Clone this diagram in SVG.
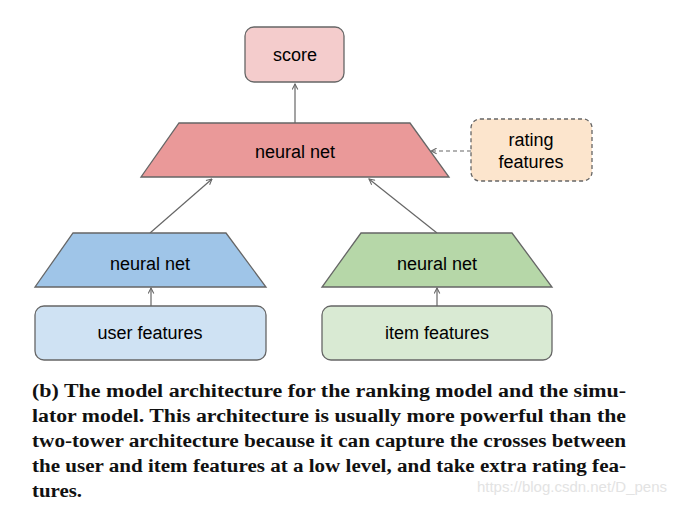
<svg xmlns="http://www.w3.org/2000/svg" width="678" height="505" viewBox="0 0 678 505">
<style>
.lbl{font-family:"Liberation Sans",Arial,sans-serif;font-size:18px;fill:#000;text-anchor:middle}
.shape{stroke:#666;stroke-width:1.3}
.conn{stroke:#666;stroke-width:1.2;fill:none}
.cap{font-family:"Liberation Serif","Times New Roman",serif;font-size:18.5px;font-weight:bold;fill:#111}
</style>
<defs>
<marker id="ah" viewBox="0 0 10 10" refX="9" refY="5" markerWidth="7" markerHeight="7" orient="auto" markerUnits="userSpaceOnUse">
<path d="M1,1 L9,5 L1,9" fill="none" stroke="#666" stroke-width="1.5"/>
</marker>
</defs>
<rect width="678" height="505" fill="#fff"/>
<g id="connectors">
<line class="conn" x1="295" y1="123" x2="295" y2="84" marker-end="url(#ah)"/>
<line class="conn" x1="471" y1="151" x2="431" y2="151" stroke-dasharray="4,3" marker-end="url(#ah)"/>
<line class="conn" x1="150" y1="233" x2="212" y2="179" marker-end="url(#ah)"/>
<line class="conn" x1="437" y1="233" x2="369" y2="179" marker-end="url(#ah)"/>
<line class="conn" x1="151" y1="306" x2="151" y2="288" marker-end="url(#ah)"/>
<line class="conn" x1="437" y1="306" x2="437" y2="288" marker-end="url(#ah)"/>
</g>
<g id="score">
<rect class="shape" x="245" y="27" width="99" height="55" rx="9" fill="#f4cccc"/>
<text class="lbl" x="295" y="61">score</text>
</g>
<g id="top-net">
<polygon class="shape" points="179,123 410,123 449,177 141,177" fill="#ea9999"/>
<text class="lbl" x="295" y="158">neural net</text>
</g>
<g id="rating">
<rect class="shape" x="471" y="119" width="121" height="62" rx="9" fill="#fce5cd" stroke-dasharray="4,3"/>
<text class="lbl" x="531" y="146">rating</text>
<text class="lbl" x="531" y="168">features</text>
</g>
<g id="user-net">
<polygon class="shape" points="73,233 226,233 266,287 35,287" fill="#9fc5e8"/>
<text class="lbl" x="150" y="270">neural net</text>
</g>
<g id="item-net">
<polygon class="shape" points="361,233 512,233 552,287 322,287" fill="#b6d7a8"/>
<text class="lbl" x="437" y="270">neural net</text>
</g>
<g id="user-features">
<rect class="shape" x="35" y="306" width="231" height="54" rx="9" fill="#cfe2f3"/>
<text class="lbl" x="150" y="339">user features</text>
</g>
<g id="item-features">
<rect class="shape" x="322" y="306" width="230" height="54" rx="9" fill="#d9ead3"/>
<text class="lbl" x="437" y="339">item features</text>
</g>
<g id="caption">
<text class="cap" x="32" y="397" textLength="594" lengthAdjust="spacingAndGlyphs">(b) The model architecture for the ranking model and the simu-</text>
<text class="cap" x="32" y="422" textLength="594" lengthAdjust="spacingAndGlyphs">lator model. This architecture is usually more powerful than the</text>
<text class="cap" x="32" y="447" textLength="594" lengthAdjust="spacingAndGlyphs">two-tower architecture because it can capture the crosses between</text>
<text class="cap" x="32" y="472" textLength="594" lengthAdjust="spacingAndGlyphs">the user and item features at a low level, and take extra rating fea-</text>
<text class="cap" x="32" y="497" textLength="50" lengthAdjust="spacingAndGlyphs">tures.</text>
<text x="667" y="492" font-family="Liberation Sans,Arial,sans-serif" font-size="15" fill="#e3e3e3" text-anchor="end">https://blog.csdn.net/D_pens</text>
</g>
</svg>
